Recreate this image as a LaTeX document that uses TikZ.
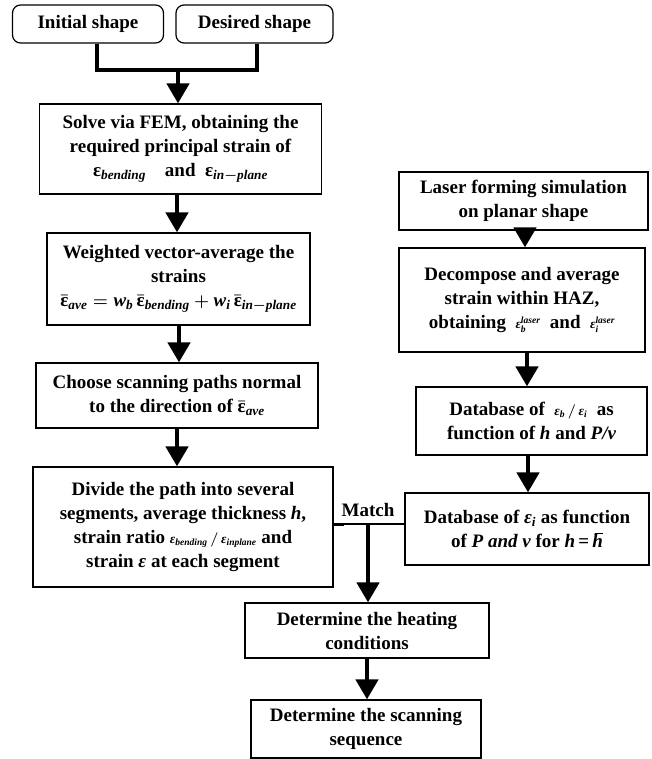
\documentclass[tikz,border=0pt]{standalone}
\usepackage{amsmath}
\usepackage{fontspec}
\setmainfont{Liberation Serif}
\usetikzlibrary{arrows.meta}
\newcommand\Ebf{\text{\bfseries\upshape ε}}
\newcommand\Eit{\text{\bfseries\itshape ε}}
\newcommand\mi[1]{\text{\bfseries\itshape #1}}
\begin{document}
\begin{tikzpicture}[x=1pt,y=-1pt,
  txt/.style={font=\fontsize{19}{24}\selectfont\bfseries\boldmath},
  box/.style={txt,draw,line width=1.2pt,align=center,inner sep=0pt},
  rbox/.style={box,rounded corners=8pt},
  flow/.style={line width=4.5pt,-{Triangle[width=22pt,length=20pt]}},
  bar/.style={line width=4.5pt,line join=miter},
  link/.style={line width=1.2pt}]
\useasboundingbox (0,0) rectangle (651,759);
% left column
\node[rbox,minimum width=151pt,minimum height=38pt] (init) at (88,24) {Initial shape};
\node[rbox,minimum width=157pt,minimum height=38pt] (desired) at (254.5,24) {Desired shape};
\node[box,minimum width=282pt,minimum height=90pt] (fem) at (180.5,149)
  {Solve via FEM, obtaining the\\ required principal strain of\\
   $\Ebf_{\mi{bending}}$\quad and\ \ $\Ebf_{\mi{in}-\mi{plane}}$};
\node[box,minimum width=263pt,minimum height=92pt] (weighted) at (178.5,279)
  {Weighted vector-average the\\ strains\\
   $\bar{\Ebf}_{\mi{ave}}=\mi{w}_{\mi{b}}\,\bar{\Ebf}_{\mi{bending}}+\mi{w}_{\mi{i}}\,\bar{\Ebf}_{\mi{in}-\mi{plane}}$};
\node[box,minimum width=282pt,minimum height=65pt] (choose) at (177,395.5)
  {Choose scanning paths normal\\ to the direction of $\bar{\Ebf}_{\mi{ave}}$};
\node[box,minimum width=300pt,minimum height=120pt] (divide) at (183,527)
  {Divide the path into several\\ segments, average thickness \mi{h},\\
   strain ratio $\scriptstyle\Eit_{\mi{bending}}\,/\,\Eit_{\mi{inplane}}$ and\\
   strain \Eit\ at each segment};
% right column
\node[box,minimum width=249pt,minimum height=58pt] (laser) at (523.5,201)
  {Laser forming simulation\\ on planar shape};
\node[box,minimum width=246pt,minimum height=104pt] (decomp) at (522,300)
  {Decompose and average\\ strain within HAZ,\\
   obtaining\ \ $\scriptstyle\Eit_{\mi{b}}^{\mi{laser}}$\ \ and\ \ $\scriptstyle\Eit_{\mi{i}}^{\mi{laser}}$};
\node[box,minimum width=231pt,minimum height=68pt] (db1) at (531.5,421)
  {Database of\ \ $\scriptstyle\Eit_{\mi{b}}\,/\,\Eit_{\mi{i}}$\ \ as\\ function of \mi{h} and \mi{P/v}};
\node[box,minimum width=244pt,minimum height=72pt] (db2) at (527,529)
  {Database of $\Eit_{\mi{i}}$ as function\\ of \mi{P and v} for \mi{h}\,=\,\mi{h}\llap{\raisebox{0.72em}{\rule{0.42em}{0.06em}}}};
% bottom
\node[box,minimum width=244pt,minimum height=55pt] (heating) at (367,630.5)
  {Determine the heating\\ conditions};
\node[box,minimum width=230pt,minimum height=58pt] (scanning) at (366,729)
  {Determine the scanning\\ sequence};
% merge of the two start boxes
\coordinate (jl) at (97,70);
\coordinate (jr) at (257,70);
\coordinate (jc) at (178,70);
\draw[bar] (init.south -| jl) -- (jl) -- (jr) -- (desired.south -| jr);
\draw[flow] (jc) -- (fem.north -| jc);
% left flow
\draw[flow] (fem.south -| 177,0) -- (weighted.north -| 177,0);
\draw[flow] (weighted.south -| 179,0) -- (choose.north -| 179,0);
\draw[flow] (choose.south -| 177,0) -- (divide.north -| 177,0);
% right flow
\draw[flow] (laser.south -| 525,0) -- (decomp.north -| 525,0);
\draw[flow] (decomp.south -| 527,0) -- (db1.north -| 527,0);
\draw[flow] (db1.south -| 528,0) -- (db2.north -| 528,0);
% match
\coordinate (m) at (368,524);
\node[txt,anchor=base] (match) at (368,516) {Match};
\draw[link] (divide.east |- m) -- (db2.west |- m);
\draw[line width=3pt] (divide.east |- m) -- ++(10,0);
\draw[flow] (m) -- (heating.north -| m);
\draw[flow] (heating.south -| 367,0) -- (scanning.north -| 367,0);
\end{tikzpicture}
\end{document}
